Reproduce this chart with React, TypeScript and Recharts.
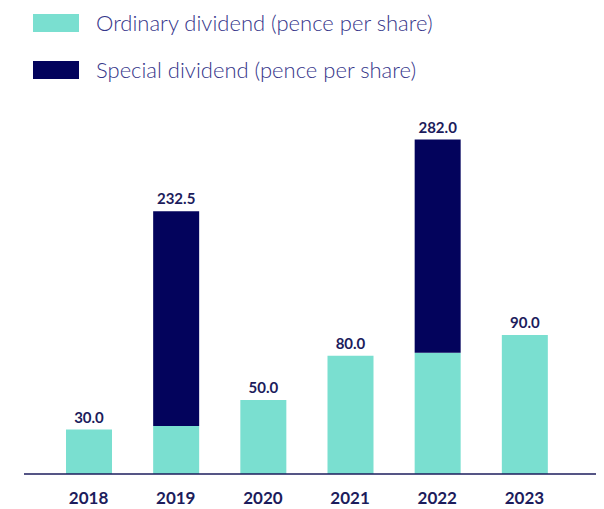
import React from 'react';
import { BarChart, Bar, XAxis, YAxis, LabelList } from 'recharts';

const years = ['2018', '2019', '2020', '2021', '2022', '2023'];
const ordinary = [30, 32.5, 50, 80, 82, 94];
// special portion as drawn in the source (bars are not to scale there)
const special = [0, 145, 0, 0, 144, 0];
const totals = ['30.0', '232.5', '50.0', '80.0', '282.0', '90.0'];

const TEAL = '#7adfd0';
const NAVY = '#03035c';
const TEXT = '#1c1c5c';

const data = years.map((y, i) => ({
  year: y,
  ordinary: ordinary[i],
  special: special[i],
  ordLabel: special[i] === 0 ? totals[i] : '',
  specLabel: totals[i],
}));

const YearTick = (props: any) => {
  const { x, y, payload } = props;
  return (
    <text x={x} y={y} dy={22} textAnchor="middle" fill={TEXT} fontSize={17} fontWeight={700} fontFamily="Lato, sans-serif">
      {payload.value}
    </text>
  );
};

const TotalLabel = (props: any) => {
  const { x, y, width, value } = props;
  if (!value) return null;
  return (
    <text x={x + width / 2} y={y - 7} textAnchor="middle" fill={TEXT} fontSize={15} fontWeight={700} fontFamily="Lato, sans-serif">
      {value}
    </text>
  );
};

const legendItems = [
  { label: 'Ordinary dividend (pence per share)', color: TEAL, top: 14 },
  { label: 'Special dividend (pence per share)', color: NAVY, top: 61 },
];

export default function App() {
  return (
    <div style={{ position: 'absolute', left: 0, top: 0, width: 604, height: 509, background: '#fff' }}>
      {legendItems.map(item => (
        <div key={item.label} style={{ position: 'absolute', left: 33, top: item.top, display: 'flex', alignItems: 'center' }}>
          <div style={{ width: 46, height: 18, background: item.color }} />
          <span style={{ marginLeft: 17, fontFamily: 'Lato, sans-serif', fontWeight: 300, fontSize: 22, color: '#36368a', lineHeight: '18px' }}>
            {item.label}
          </span>
        </div>
      ))}
      <BarChart width={604} height={509} data={data} margin={{ top: 110, right: 8, bottom: 5, left: 24 }}>
        <XAxis
          dataKey="year"
          height={30}
          padding={{ left: 21, right: 28 }}
          axisLine={{ stroke: TEXT, strokeWidth: 1.5 }}
          tickLine={false}
          tick={<YearTick />}
        />
        <YAxis hide domain={[0, 246]} />
        <Bar dataKey="ordinary" stackId="a" fill={TEAL} barSize={46} isAnimationActive={false}>
          <LabelList dataKey="ordLabel" content={<TotalLabel />} />
        </Bar>
        <Bar dataKey="special" stackId="a" fill={NAVY} barSize={46} isAnimationActive={false}>
          <LabelList dataKey="specLabel" content={<TotalLabel />} />
        </Bar>
      </BarChart>
    </div>
  );
}
